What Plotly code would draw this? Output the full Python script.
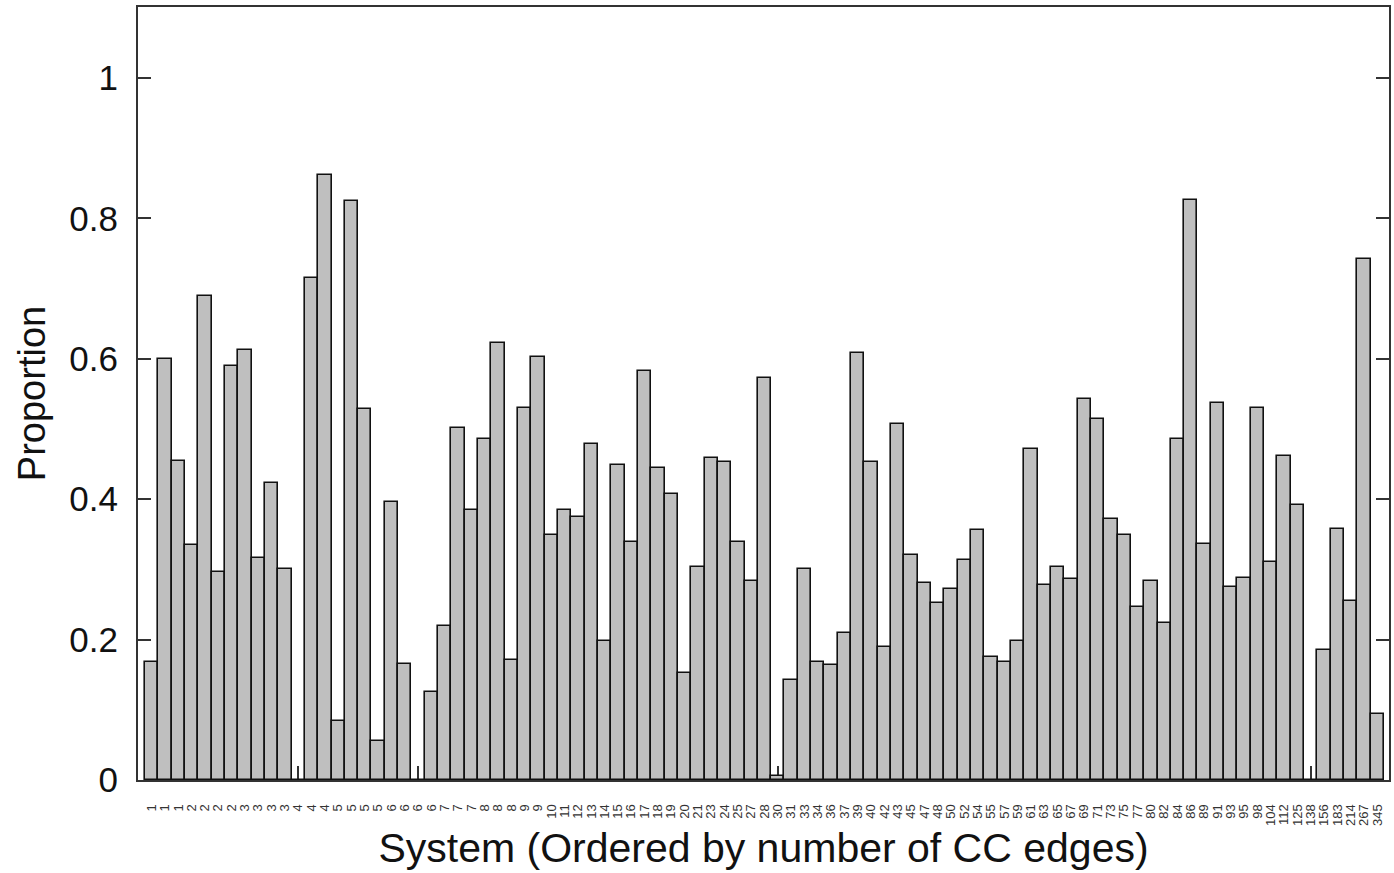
import plotly.graph_objects as go

# Proportion per system (ordered by number of CC edges)
proportion = [
    0.168, 0.599, 0.455, 0.335, 0.689, 0.296, 0.590, 0.612, 0.316, 0.423,
    0.300, 0.0, 0.715, 0.862, 0.084, 0.824, 0.528, 0.055, 0.396, 0.165,
    0.0, 0.126, 0.220, 0.501, 0.385, 0.485, 0.623, 0.171, 0.530, 0.603,
    0.349, 0.385, 0.375, 0.478, 0.198, 0.449, 0.339, 0.582, 0.445, 0.407,
    0.152, 0.304, 0.458, 0.453, 0.339, 0.284, 0.572, 0.006, 0.142, 0.301,
    0.168, 0.164, 0.210, 0.608, 0.453, 0.190, 0.507, 0.320, 0.281, 0.252,
    0.272, 0.313, 0.356, 0.175, 0.168, 0.198, 0.472, 0.278, 0.304, 0.287,
    0.543, 0.514, 0.372, 0.349, 0.246, 0.284, 0.224, 0.485, 0.826, 0.336,
    0.537, 0.275, 0.288, 0.530, 0.311, 0.462, 0.391, 0.0, 0.185, 0.358,
    0.255, 0.742, 0.094,
]

# Tick labels: number of CC edges per system (tiny, barely legible in the source)
cc_edges_1digit = [1, 1, 1, 2, 2, 2, 2, 3, 3, 3, 3, 4, 4, 4, 5, 5, 5, 5, 6, 6,
                   6, 6, 7, 7, 7, 8, 8, 8, 9, 9]
cc_edges_2digit = [10, 11, 12, 13, 14, 15, 16, 17, 18, 19, 20, 21, 23, 24, 25, 27,
                   28, 30, 31, 33, 34, 36, 37, 39, 40, 42, 43, 45, 47, 48, 50, 52,
                   54, 55, 57, 59, 61, 63, 65, 67, 69, 71, 73, 75, 77, 80, 82, 84,
                   86, 89, 91, 93, 95, 98]
cc_edges_3digit = [104, 112, 125, 138, 156, 183, 214, 267, 345]
cc_edges = cc_edges_1digit + cc_edges_2digit + cc_edges_3digit

y_ticks = [0, 0.2, 0.4, 0.6, 0.8, 1]
y_tick_text = ["0", "0.2", "0.4", "0.6", "0.8", "1"]

system_index = list(range(len(proportion)))

FONT = "Liberation Sans, Arial, Helvetica, sans-serif"
AX = "#333333"

fig = go.Figure(
    go.Bar(
        x=system_index,
        y=proportion,
        width=1.0,
        marker=dict(color="#bfbfbf", line=dict(color="#111111", width=1.6)),
        hoverinfo="y",
    )
)

fig.update_layout(
    width=1394,
    height=873,
    margin=dict(l=138, r=5, t=7, b=93, autoexpand=False),
    paper_bgcolor="white",
    plot_bgcolor="white",
    showlegend=False,
    bargap=0,
    font=dict(family=FONT, color="#111111"),
)

fig.update_xaxes(
    automargin=False,
    range=[-1.025, 92.875],
    tickmode="array",
    tickvals=system_index,
    ticktext=[str(v) for v in cc_edges],
    tickangle=-90,
    tickfont=dict(size=13, color="#333333"),
    ticks="inside",
    ticklen=14,
    tickwidth=1.5,
    tickcolor=AX,
    ticklabelstandoff=17,
    showline=True,
    linecolor=AX,
    linewidth=2,
    mirror=True,
    showgrid=False,
    zeroline=False,
    layer="below traces",
    title=dict(text="System (Ordered by number of CC edges)",
               font=dict(size=41, family=FONT, color="#111111"), standoff=8),
)

fig.update_yaxes(
    automargin=False,
    range=[0, 1.101],
    tickmode="array",
    tickvals=y_ticks,
    ticktext=y_tick_text,
    tickfont=dict(size=35, family=FONT, color="#111111"),
    ticks="inside",
    ticklen=13,
    tickwidth=2,
    tickcolor=AX,
    ticklabelstandoff=11,
    showline=True,
    linecolor=AX,
    linewidth=2,
    mirror="ticks",
    showgrid=False,
    zeroline=False,
    title=dict(text="Proportion", font=dict(size=38, family=FONT, color="#111111"),
               standoff=12),
)

fig.write_html(
    "out.html",
    config={"displayModeBar": False},
    post_script="document.body.style.margin='0';document.body.style.overflow='hidden';",
)
